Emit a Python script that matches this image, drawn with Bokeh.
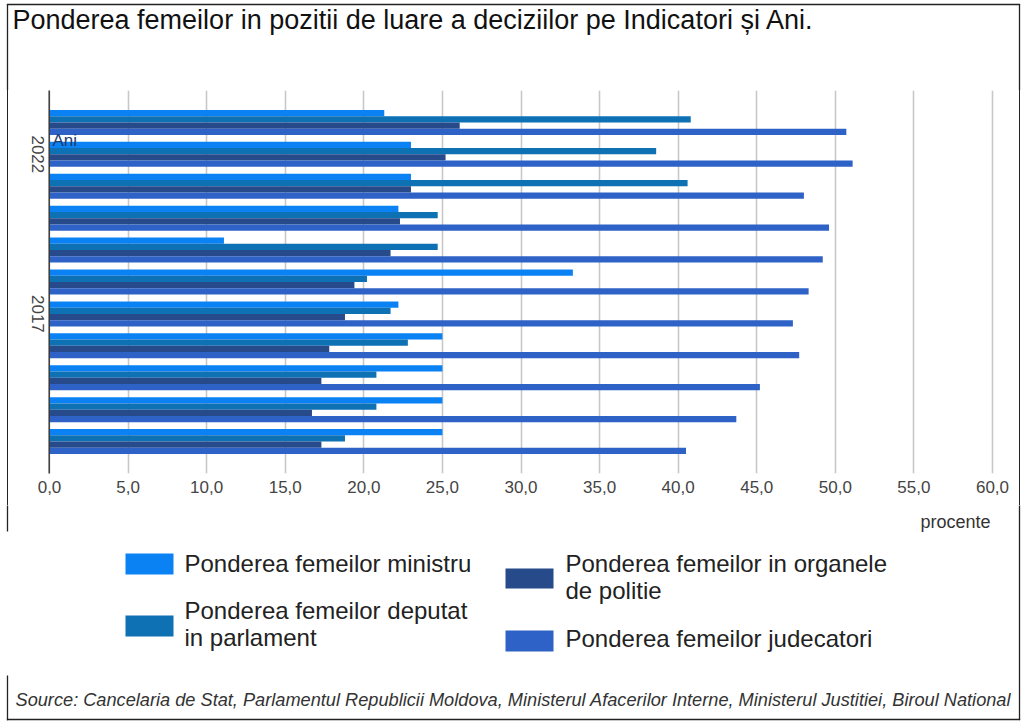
import numpy as np
from bokeh.plotting import figure
from bokeh.layouts import column, row
from bokeh.models import Range1d, FixedTicker, Label, LinearAxis, Grid, Div
from bokeh.core.properties import value
from bokeh.embed import file_html
from bokeh.resources import INLINE

# ---- data ----
years = [2023, 2022, 2021, 2020, 2019, 2018, 2017, 2016, 2015, 2014, 2013]
ministru = [21.3, 23.0, 23.0, 22.2, 11.1, 33.3, 22.2, 25.0, 25.0, 25.0, 25.0]
deputat = [40.8, 38.6, 40.6, 24.7, 24.7, 20.2, 21.7, 22.8, 20.8, 20.8, 18.8]
politie = [26.1, 25.2, 23.0, 22.3, 21.7, 19.4, 18.8, 17.8, 17.3, 16.7, 17.3]
judecatori = [50.7, 51.1, 48.0, 49.6, 49.2, 48.3, 47.3, 47.7, 45.2, 43.7, 40.5]

series_names = [
    ["Ponderea femeilor ministru"],
    ["Ponderea femeilor deputat", "in parlament"],
    ["Ponderea femeilor in organele", "de politie"],
    ["Ponderea femeilor judecatori"],
]
x_ticks = [0, 5, 10, 15, 20, 25, 30, 35, 40, 45, 50, 55, 60]
x_tick_labels = ["0,0", "5,0", "10,0", "15,0", "20,0", "25,0", "30,0",
                 "35,0", "40,0", "45,0", "50,0", "55,0", "60,0"]
year_ticks = [2022, 2017]
year_tick_labels = ["2022", "2017"]

title_text = "Ponderea femeilor in pozitii de luare a deciziilor pe Indicatori și Ani."
axis_title = "Ani"
unit_text = "procente"
source_text = ("Source: Cancelaria de Stat, Parlamentul Republicii Moldova, "
               "Ministerul Afacerilor Interne, Ministerul Justitiei, Biroul National")

colors = ["#0A82F4", "#0E71B4", "#274A8A", "#2E62C6"]
FONT = "Liberation Sans"
BORDER = "#222222"

# ---- page layout (image pixels) ----
PAGE_W, PAGE_H = 1024, 724
TOP_H = 90            # title strip           (0 .. 90)
MID_H = 415           # chart strip           (90 .. 505)
BOT_H = PAGE_H - TOP_H - MID_H
SIDE_L = 8            # left border strip     (0 .. 8)
SIDE_R = 4            # right border strip    (1016 .. 1020)
MID_X0 = SIDE_L
MID_W = PAGE_W - SIDE_L - 8
FRAME_H = 383         # chart frame height (90 .. 473)
PLOT_L, PLOT_R = 49, 992   # pixel positions of 0 % and 60 %
X0, X1 = 0, 60
Y0, Y1 = 2012, 2024
BX_L, BX_R, BY_T, BY_B = 7, 1019, 4, 719   # outer frame lines
LW = 0.65             # half thickness of frame lines
BASE_FIX = 0.4        # text glyph baseline correction (fraction of font size)


def base(y, size):
    return y - BASE_FIX * size


def strip(w, h, x0, x1, y_top, y_bot):
    f = figure(width=w, height=h, x_range=Range1d(x0, x1), y_range=Range1d(y_bot, y_top),
               output_backend="svg", toolbar_location=None,
               x_axis_location=None, y_axis_location=None, min_border=0)
    f.outline_line_color = None
    f.grid.visible = False
    f.background_fill_color = "white"
    f.border_fill_color = "white"
    return f


# ---- top strip: title ----
top = strip(PAGE_W, TOP_H, 0, PAGE_W, 0, TOP_H)
top.quad(left=[BX_L - LW, BX_L - LW, BX_R - LW], right=[BX_R + LW, BX_L + LW, BX_R + LW],
         top=[BY_T - LW, BY_T, BY_T], bottom=[BY_T + LW, TOP_H + 1, TOP_H + 1],
         fill_color=BORDER, line_color=None)
top.text(x=[12], y=[base(30, 27)], text=[title_text], text_font=value(FONT),
         text_font_size=value("27px"), text_color="#111111",
         text_baseline="alphabetic", text_align="left")

# ---- main chart: frame covers the whole strip width (pixel x range),
#      the bars use their own percent range mapped onto 49..992 px ----
px_per_x = (PLOT_R - PLOT_L) / (X1 - X0)
px_per_y = FRAME_H / (Y1 - Y0)
pct_range = Range1d(X0 - (PLOT_L - MID_X0) / px_per_x,
                    X1 + (MID_X0 + MID_W - PLOT_R) / px_per_x)
mid = figure(width=MID_W, height=MID_H, x_range=Range1d(MID_X0, MID_X0 + MID_W),
             y_range=Range1d(Y0, Y1), extra_x_ranges={"pct": pct_range},
             output_backend="svg", toolbar_location=None,
             x_axis_location=None, y_axis_location=None,
             min_border_left=0, min_border_right=0, min_border_top=0,
             min_border_bottom=MID_H - FRAME_H)
mid.outline_line_color = None
mid.background_fill_color = "white"
mid.border_fill_color = "white"
mid.grid.visible = False          # default grids of the pixel / year ranges

ticker = FixedTicker(ticks=x_ticks)
xaxis = LinearAxis(x_range_name="pct", ticker=ticker,
                   major_label_overrides={t: l for t, l in zip(x_ticks, x_tick_labels)},
                   axis_line_color=None, major_tick_line_color=None,
                   minor_tick_line_color=None, major_tick_out=0, major_tick_in=0,
                   minor_tick_out=0, major_label_standoff=7,
                   major_label_text_font=FONT, major_label_text_font_size="17px",
                   major_label_text_color="#444444")
mid.add_layout(xaxis, "below")
mid.add_layout(Grid(dimension=0, ticker=ticker, x_range_name="pct",
                    grid_line_color="#c8c8c8", grid_line_width=1.6))

bar_h = 0.196
offsets = [0.294, 0.098, -0.098, -0.294]
yrs = np.array(years, dtype=float)
for vals, off, col in zip([ministru, deputat, politie, judecatori], offsets, colors):
    mid.hbar(y=yrs + off, left=0, right=vals, height=bar_h,
             fill_color=col, line_color=None, x_range_name="pct")

# y axis line and year labels
mid.quad(left=[PLOT_L - 1.0], right=[PLOT_L + 0.4], top=[Y1 + 1], bottom=[Y0 - 1],
         fill_color="#333333", line_color=None)
mid.text(x=[37.5] * len(year_ticks), y=year_ticks, text=year_tick_labels,
         angle=-np.pi / 2, text_align="center", text_baseline="middle",
         text_font=value(FONT), text_font_size=value("17px"), text_color="#444444")
mid.add_layout(Label(x=52, y=Y1 - (base(147, 17) - TOP_H) / px_per_y,
                     text=axis_title, text_font=FONT, text_font_size="17px",
                     text_color="#1f3a6e", text_baseline="alphabetic"))

side_l = Div(width=SIDE_L, height=MID_H, margin=0,
             styles={"border-right": "1.3px solid " + BORDER, "box-sizing": "border-box"})
side_r = Div(width=SIDE_R, height=MID_H, margin=0,
             styles={"border-right": "1.3px solid " + BORDER, "box-sizing": "border-box"})

# ---- bottom strip: unit, legend, source ----
y_b0 = TOP_H + MID_H
bot = strip(PAGE_W, BOT_H, 0, PAGE_W, y_b0, PAGE_H)
bot.quad(left=[BX_L - LW, BX_L - LW, BX_R - LW, BX_L - LW],
         right=[BX_L + LW, BX_L + LW, BX_R + LW, BX_R + LW],
         top=[y_b0 - 1, 675, y_b0 - 1, BY_B - LW],
         bottom=[531, BY_B + LW, BY_B + LW, BY_B + LW],
         fill_color=BORDER, line_color=None)
bot.text(x=[920], y=[base(529, 18)], text=[unit_text], text_font=value(FONT),
         text_font_size=value("18px"), text_color="#333333",
         text_baseline="alphabetic", text_align="left")
bot.text(x=[15], y=[base(707, 18.2)], text=[source_text], text_font=value(FONT),
         text_font_size=value("18.2px"), text_font_style="italic", text_color="#333333",
         text_baseline="alphabetic", text_align="left")

# legend layout: swatch boxes and text baselines (pixels)
sw_left = [125, 125, 505, 505]
sw_right = [173, 173, 553, 553]
sw_top = [553, 615, 568, 630]
sw_bottom = [574, 636, 588, 651]
bot.quad(left=sw_left, right=sw_right, top=sw_top, bottom=sw_bottom,
         fill_color=colors, line_color=None)
txt_x = [184, 184, 565, 565]
txt_base = [[573], [620, 647], [573, 600], [648]]
lx, ly, lt = [], [], []
for tx, bases, lines in zip(txt_x, txt_base, series_names):
    for b, line in zip(bases, lines):
        lx.append(tx)
        ly.append(base(b, 24))
        lt.append(line)
bot.text(x=lx, y=ly, text=lt, text_font=value(FONT), text_font_size=value("24px"),
         text_color="#222222", text_baseline="alphabetic", text_align="left")

layout = column(top, row(side_l, mid, side_r), bot)
open("out.html", "w").write(file_html(layout, INLINE))
